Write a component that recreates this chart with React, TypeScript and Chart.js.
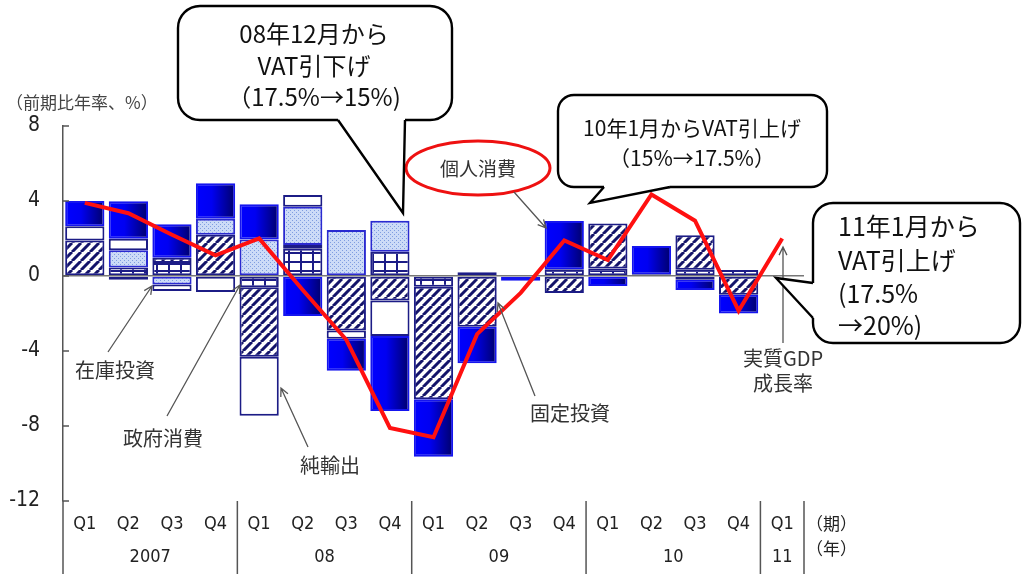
import React, { useEffect, useRef } from 'react';
import { Chart, registerables } from 'chart.js';

Chart.register(...registerables);

// ---- data ----
const quarters = ['Q1', 'Q2', 'Q3', 'Q4', 'Q1', 'Q2', 'Q3', 'Q4', 'Q1', 'Q2', 'Q3', 'Q4', 'Q1', 'Q2', 'Q3', 'Q4', 'Q1'];
const years = ['2007', '08', '09', '10', '11'];
const yearSpans = [4, 4, 4, 4, 1];
// 政府消費 (grid)
const govt = [0, 0.45, 0.7, 0, -0.6, 1.45, 0, 1.3, -0.57, 0.2, 0, 0.36, 0.4, 0.1, 0.33, 0.32, null];
// 固定投資 (hatch)
const fixedInv = [1.9, -0.2, 0.28, 2.2, -3.7, 0.2, -2.9, -1.3, -6.0, -2.7, 0, -0.9, 2.4, 0, 1.85, -1.0, null];
// 在庫投資 (dotted)
const inventory = [0, 0.92, -0.45, 0.85, 1.95, 2.05, 2.45, 1.65, 0, 0, 0, 0, 0, 0, 0, 0, null];
// 純輸出 (white)
const netExports = [0.75, 0.62, -0.35, -0.85, -3.15, 0.62, -0.45, -1.9, 0, 0, 0, 0, 0, 0, -0.2, 0, null];
// 個人消費 (blue)
const consumption = [1.35, 2.0, 1.78, 1.9, 1.88, -2.13, -1.7, -4.0, -3.07, -1.95, -0.25, 2.58, -0.53, 1.5, -0.55, -1.0, null];
// 実質GDP成長率
const gdp = [3.9, 3.35, 2.2, 1.1, 2.0, -0.75, -3.4, -8.1, -8.6, -3.1, -0.9, 1.9, 0.85, 4.35, 2.95, -1.85, 2.0];
const yMin = -12;
const yMax = 8;
const yStep = 4;

const NAVY = '#1c1c86';
const NUM_FONT = '"Liberation Sans Narrow", "DejaVu Sans Condensed", "Liberation Sans", sans-serif';
const JP_FONT = '"Noto Sans CJK JP", "Noto Sans", sans-serif';

function tile(w: number, h: number, draw: (g: CanvasRenderingContext2D) => void) {
  const c = document.createElement('canvas');
  c.width = w;
  c.height = h;
  const g = c.getContext('2d')!;
  draw(g);
  return c;
}

function arrow(ctx: CanvasRenderingContext2D, x1: number, y1: number, x2: number, y2: number) {
  ctx.save();
  ctx.strokeStyle = '#555';
  ctx.lineWidth = 1.3;
  ctx.beginPath();
  ctx.moveTo(x1, y1);
  ctx.lineTo(x2, y2);
  const ang = Math.atan2(y2 - y1, x2 - x1);
  const L = 9;
  ctx.moveTo(x2 - L * Math.cos(ang - 0.45), y2 - L * Math.sin(ang - 0.45));
  ctx.lineTo(x2, y2);
  ctx.lineTo(x2 - L * Math.cos(ang + 0.45), y2 - L * Math.sin(ang + 0.45));
  ctx.stroke();
  ctx.restore();
}

function callout(
  ctx: CanvasRenderingContext2D,
  x: number, y: number, w: number, h: number, r: number,
  a: number[], tip: number[], b: number[], inward: number[]
) {
  ctx.save();
  ctx.lineWidth = 2.4;
  ctx.strokeStyle = '#000';
  ctx.fillStyle = '#fff';
  ctx.beginPath();
  (ctx as any).roundRect(x, y, w, h, r);
  ctx.fill();
  ctx.stroke();
  ctx.beginPath();
  ctx.moveTo(a[0] + inward[0], a[1] + inward[1]);
  ctx.lineTo(a[0], a[1]);
  ctx.lineTo(tip[0], tip[1]);
  ctx.lineTo(b[0], b[1]);
  ctx.lineTo(b[0] + inward[0], b[1] + inward[1]);
  ctx.closePath();
  ctx.fill();
  ctx.beginPath();
  ctx.moveTo(a[0], a[1]);
  ctx.lineTo(tip[0], tip[1]);
  ctx.lineTo(b[0], b[1]);
  ctx.stroke();
  ctx.restore();
}

function text(ctx: CanvasRenderingContext2D, s: string, x: number, y: number, font: string, color: string, align: CanvasTextAlign = 'center') {
  ctx.save();
  ctx.font = font;
  ctx.fillStyle = color;
  ctx.textAlign = align;
  ctx.textBaseline = 'middle';
  ctx.fillText(s, x, y);
  ctx.restore();
}

const decorPlugin = {
  id: 'decor',
  afterDraw(chart: any) {
    const ctx: CanvasRenderingContext2D = chart.ctx;
    const area = chart.chartArea;
    const xs = chart.scales.x;
    const ys = chart.scales.y;
    const catW = (area.right - area.left) / quarters.length;

    // y-axis extension and inside tick marks
    ctx.save();
    ctx.strokeStyle = '#555';
    ctx.lineWidth = 1.5;
    ctx.beginPath();
    ctx.moveTo(area.left, area.bottom);
    ctx.lineTo(area.left, chart.height);
    for (let v = yMin; v <= yMax; v += yStep) {
      const py = ys.getPixelForValue(v);
      ctx.moveTo(area.left, py);
      ctx.lineTo(area.left + 6, py);
    }
    // year separators
    let idx = 0;
    for (let i = 0; i < yearSpans.length; i++) {
      idx += yearSpans[i];
      const sx = area.left + idx * catW;
      ctx.moveTo(sx, area.bottom);
      ctx.lineTo(sx, chart.height);
    }
    ctx.stroke();
    ctx.restore();

    // year labels
    idx = 0;
    for (let i = 0; i < years.length; i++) {
      const first = xs.getPixelForValue(idx);
      const last = xs.getPixelForValue(idx + yearSpans[i] - 1);
      text(ctx, years[i], (first + last) / 2, 557, `18px ${NUM_FONT}`, '#222');
      idx += yearSpans[i];
    }
    text(ctx, '（期）', 806, 524, `17px ${JP_FONT}`, '#222', 'left');
    text(ctx, '（年）', 806, 549, `17px ${JP_FONT}`, '#222', 'left');

    // y title
    text(ctx, '（前期比年率、%）', 6, 103, `17px ${JP_FONT}`, '#444', 'left');

    // series labels and arrows
    const lab = `20px ${JP_FONT}`;
    text(ctx, '在庫投資', 115, 370, lab, '#333');
    arrow(ctx, 108, 352, 152, 286);
    text(ctx, '政府消費', 163, 438, lab, '#333');
    arrow(ctx, 167, 416, 240, 285);
    text(ctx, '純輸出', 330, 465, lab, '#333');
    arrow(ctx, 308, 447, 281, 388);
    text(ctx, '固定投資', 570, 413, lab, '#333');
    arrow(ctx, 535, 396, 498, 303);
    text(ctx, '実質GDP', 783, 358, lab, '#333');
    text(ctx, '成長率', 783, 383, lab, '#333');
    arrow(ctx, 783, 343, 783, 247);

    // 個人消費 ellipse
    ctx.save();
    ctx.strokeStyle = '#ee1111';
    ctx.lineWidth = 3;
    ctx.fillStyle = '#fff';
    ctx.beginPath();
    ctx.ellipse(478, 168, 72, 27, 0, 0, Math.PI * 2);
    ctx.fill();
    ctx.stroke();
    ctx.restore();
    text(ctx, '個人消費', 478, 169, `19px ${JP_FONT}`, '#333');
    arrow(ctx, 514, 192, 546, 228);

    // callouts
    callout(ctx, 178, 6, 274, 114, 22, [338, 120], [403, 213], [405, 120], [0, -4]);
    const f1 = `24px ${JP_FONT}`;
    text(ctx, '08年12月から', 314, 34, f1, '#111');
    text(ctx, 'VAT引下げ', 314, 66, f1, '#111');
    text(ctx, '（17.5%→15%)', 314, 97, f1, '#111');

    callout(ctx, 558, 95, 269, 92, 16, [604, 187], [590, 203], [670, 187], [0, -4]);
    const f2 = `21px ${JP_FONT}`;
    text(ctx, '10年1月からVAT引上げ', 692, 128, f2, '#111');
    text(ctx, '（15%→17.5%）', 692, 158, f2, '#111');

    callout(ctx, 813, 203, 207, 140, 20, [813, 283], [776, 278], [813, 318], [4, 0]);
    const f3 = `25px ${JP_FONT}`;
    text(ctx, '11年1月から', 838, 226, f3, '#111', 'left');
    text(ctx, 'VAT引上げ', 838, 260, f3, '#111', 'left');
    text(ctx, '(17.5%', 838, 293, f3, '#111', 'left');
    text(ctx, '→20%)', 838, 325, f3, '#111', 'left');
  },
};

export default function App() {
  const canvasRef = useRef<HTMLCanvasElement | null>(null);

  useEffect(() => {
    const canvas = canvasRef.current!;
    const mctx = canvas.getContext('2d')!;

    const hatch = mctx.createPattern(
      tile(9, 9, (g) => {
        g.fillStyle = '#fff';
        g.fillRect(0, 0, 9, 9);
        g.strokeStyle = '#14146a';
        g.lineWidth = 3;
        g.beginPath();
        for (const o of [-9, 0, 9]) {
          g.moveTo(o, 9);
          g.lineTo(o + 9, 0);
        }
        g.stroke();
      }),
      'repeat'
    )!;
    const grid = mctx.createPattern(
      tile(12, 9, (g) => {
        g.fillStyle = '#fff';
        g.fillRect(0, 0, 12, 9);
        g.fillStyle = NAVY;
        g.fillRect(0, 0, 12, 2);
        g.fillRect(0, 0, 2, 9);
      }),
      'repeat'
    )!;
    const dots = mctx.createPattern(
      tile(4, 4, (g) => {
        g.fillStyle = '#ccdbf7';
        g.fillRect(0, 0, 4, 4);
        g.fillStyle = '#7f9de0';
        g.fillRect(0, 0, 1, 1);
        g.fillRect(2, 2, 1, 1);
      }),
      'repeat'
    )!;

    const blueFill = (c: any) => {
      const chart = c.chart;
      const xs = chart.scales && chart.scales.x;
      const area = chart.chartArea;
      if (!xs || !area || c.type !== 'data') return '#0000ee';
      const cx = xs.getPixelForValue(c.dataIndex);
      const w = ((area.right - area.left) / quarters.length) * 0.9;
      const g = chart.ctx.createLinearGradient(cx - w / 2, 0, cx + w / 2, 0);
      g.addColorStop(0, '#0000ff');
      g.addColorStop(0.4, '#0000f2');
      g.addColorStop(1, '#00006a');
      return g;
    };

    const barBase = {
      type: 'bar' as const,
      order: 1,
      borderWidth: 2,
      borderSkipped: false,
      barPercentage: 0.9,
      categoryPercentage: 1.0,
    };

    const chart = new Chart(canvas, {
      type: 'bar',
      data: {
        labels: quarters,
        datasets: [
          { ...barBase, label: '政府消費', data: govt, backgroundColor: grid, borderColor: NAVY },
          { ...barBase, label: '固定投資', data: fixedInv, backgroundColor: hatch, borderColor: NAVY },
          { ...barBase, label: '在庫投資', data: inventory, backgroundColor: dots, borderColor: '#2a2ad0' },
          { ...barBase, label: '純輸出', data: netExports, backgroundColor: '#ffffff', borderColor: NAVY },
          { ...barBase, label: '個人消費', data: consumption, backgroundColor: blueFill, borderColor: '#1515ee' },
          {
            type: 'line' as const,
            label: '実質GDP成長率',
            data: gdp,
            order: 0,
            stack: 'gdp',
            borderColor: '#ff1010',
            borderWidth: 4,
            pointRadius: 0,
            tension: 0,
            fill: false,
          } as any,
        ],
      },
      options: {
        responsive: false,
        animation: false,
        devicePixelRatio: 1,
        layout: { padding: { top: 126, right: 221, left: 0, bottom: 0 } },
        plugins: { legend: { display: false }, tooltip: { enabled: false } },
        scales: {
          x: {
            stacked: true,
            grid: { display: false, drawTicks: false },
            border: { display: false },
            ticks: {
              autoSkip: false,
              maxRotation: 0,
              padding: 13,
              color: '#222',
              font: { family: NUM_FONT, size: 18 },
            },
            afterFit: (s: any) => {
              s.height = 73;
            },
          },
          y: {
            stacked: true,
            min: yMin,
            max: yMax,
            grid: {
              drawTicks: false,
              lineWidth: 1.5,
              color: (c: any) => (c.tick && c.tick.value === 0 ? '#777' : 'rgba(0,0,0,0)'),
            },
            border: { display: true, color: '#555', width: 1.5 },
            ticks: {
              stepSize: yStep,
              padding: 23,
              color: '#222',
              font: { family: NUM_FONT, size: 21 },
            },
            afterFit: (s: any) => {
              s.width = 63;
            },
          },
        },
      },
      plugins: [decorPlugin],
    });

    return () => {
      chart.destroy();
    };
  }, []);

  return (
    <div style={{ position: 'absolute', left: 0, top: 0, width: 1025, height: 574, background: '#fff' }}>
      <canvas ref={canvasRef} width={1025} height={574} style={{ display: 'block' }} />
    </div>
  );
}
